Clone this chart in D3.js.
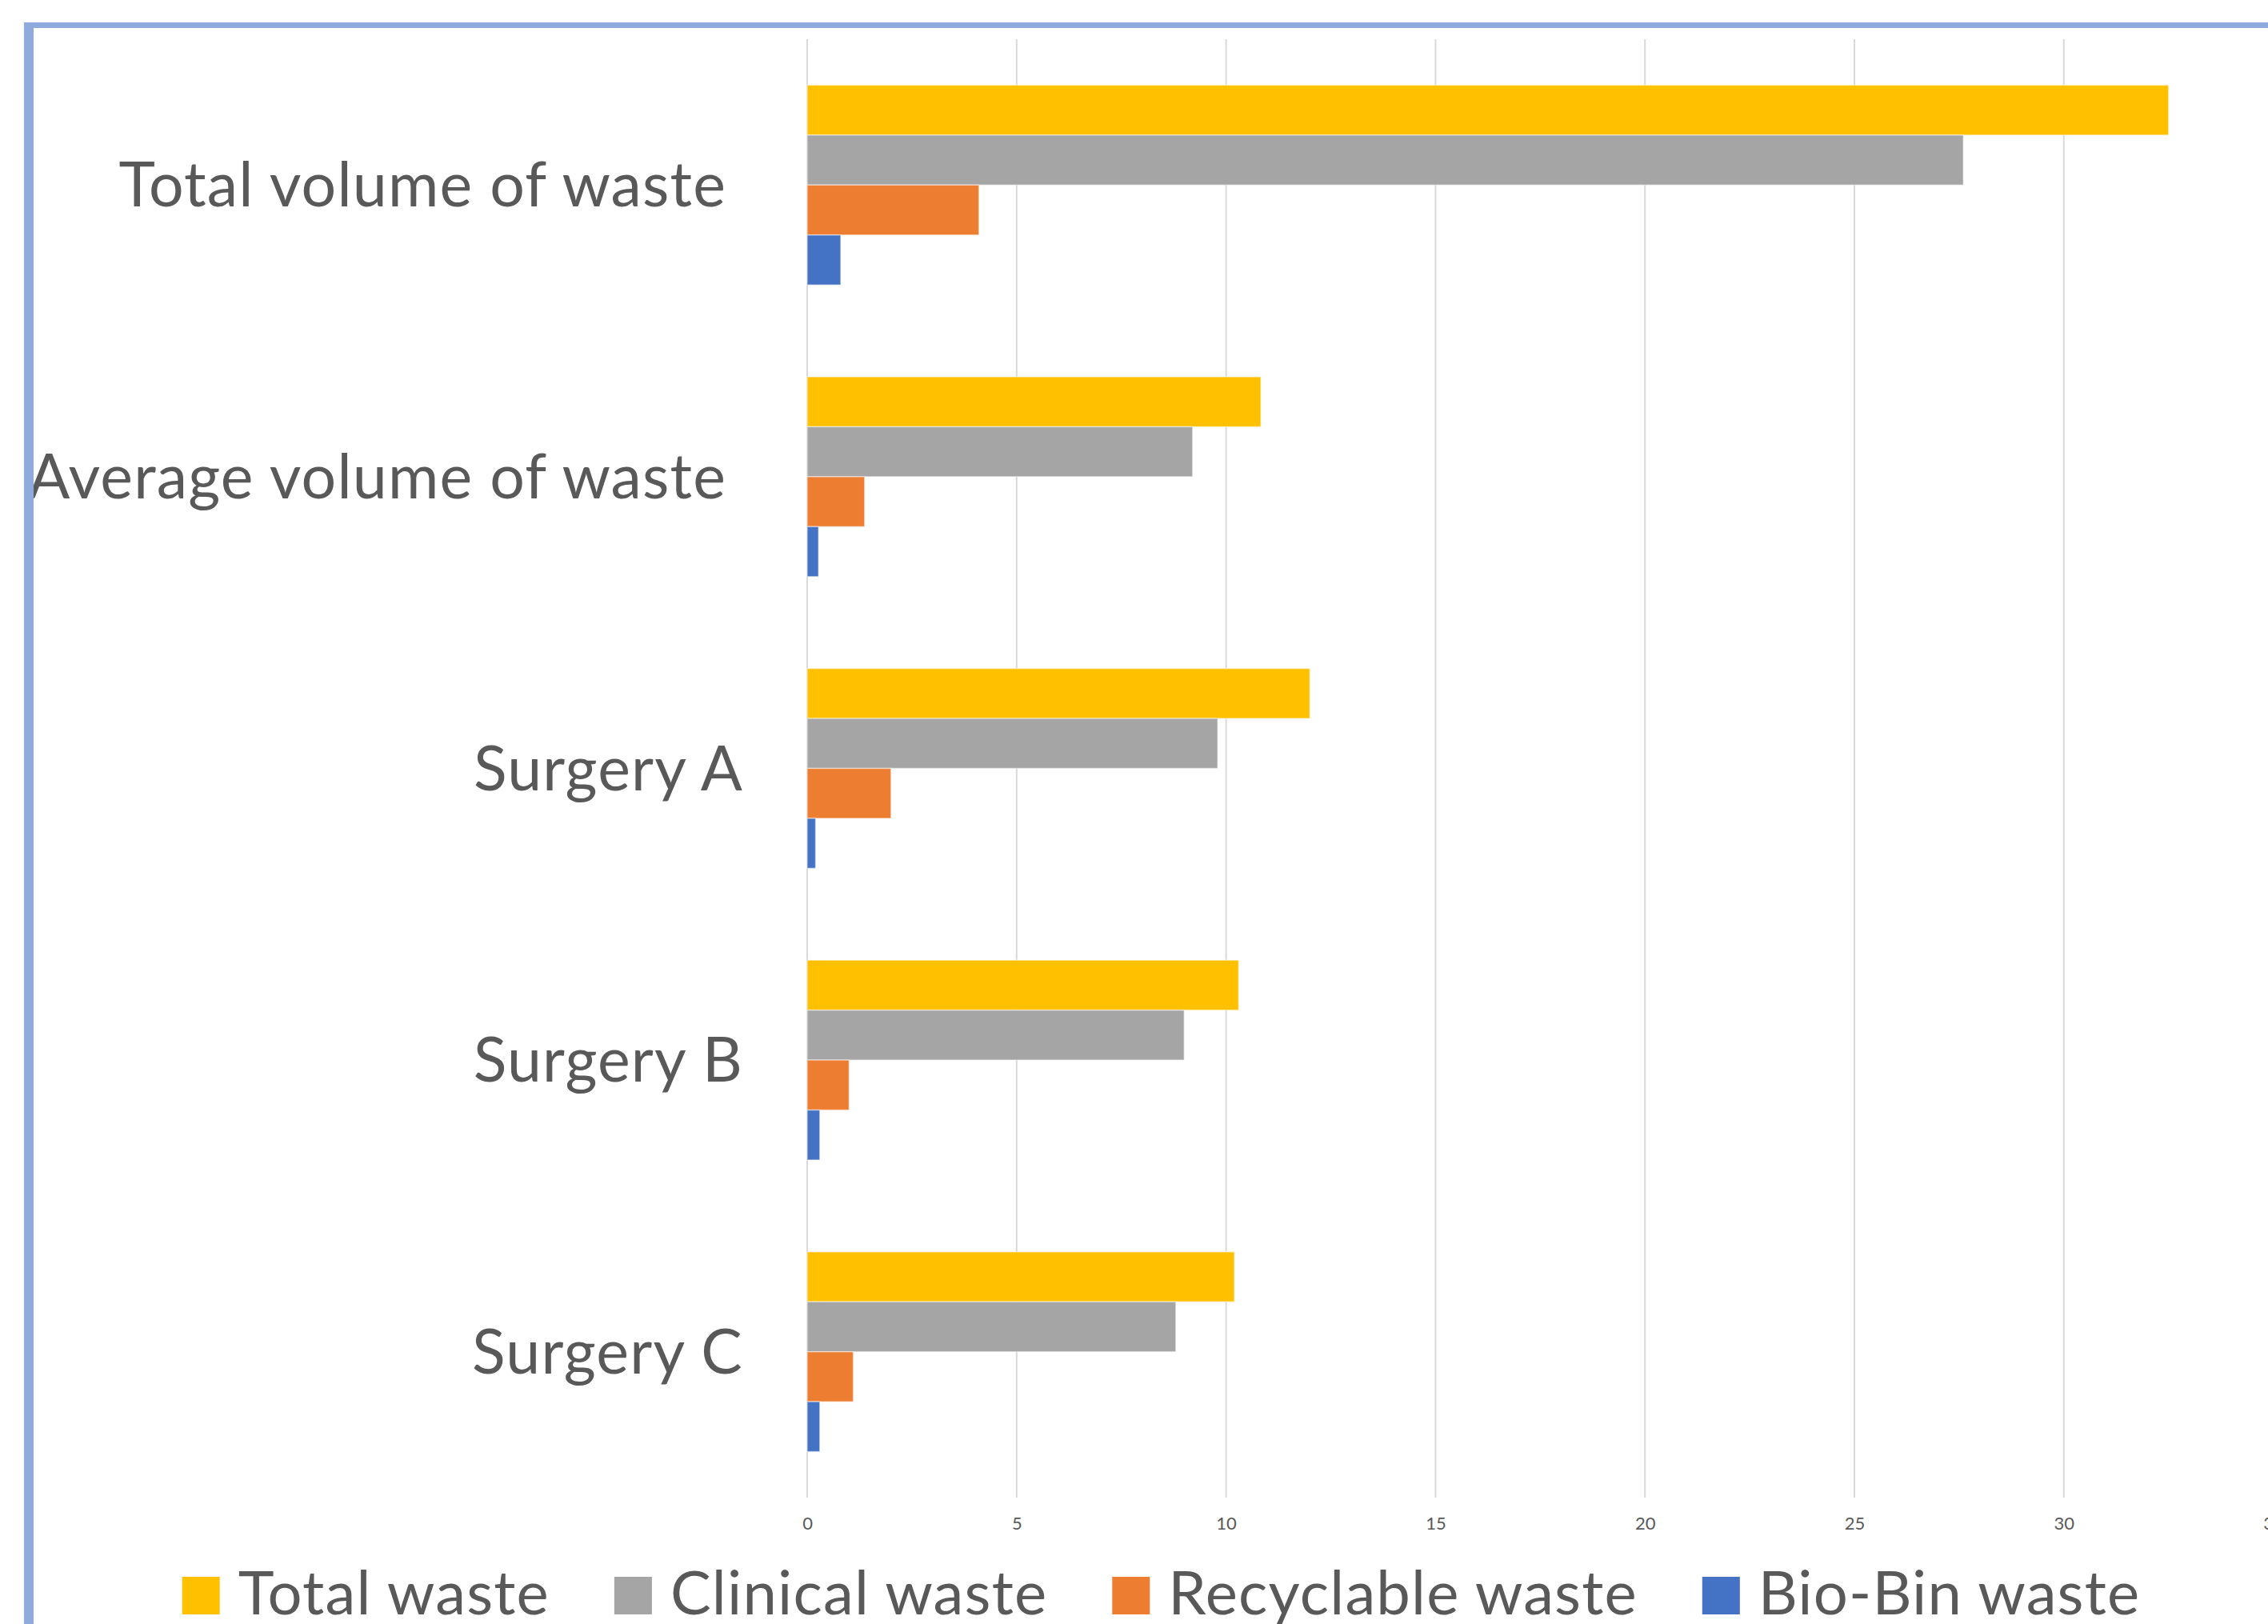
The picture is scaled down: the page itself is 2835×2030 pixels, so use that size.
<!DOCTYPE html>
<html>
<head>
<meta charset="utf-8">
<script src="https://cdn.jsdelivr.net/npm/d3@7"></script>
<style>
  html, body { margin: 0; padding: 0; background: #ffffff; overflow: hidden; }
  svg { display: block; }
  text { font-family: Lato, "Open Sans", sans-serif; fill: #595959; white-space: pre; }
</style>
</head>
<body>
<script>
// ---- data ----
const categories = ["Total volume of waste ", "Average volume of waste ", "Surgery A", "Surgery B", "Surgery C"];
const seriesNames = ["Total waste", "Clinical waste", "Recyclable waste", "Bio-Bin waste"];
const totalWaste      = [32.5, 10.83, 12.0, 10.3, 10.2];
const clinicalWaste   = [27.6, 9.2, 9.8, 9.0, 8.8];
const recyclableWaste = [4.1, 1.37, 2.0, 1.0, 1.1];
const bioBinWaste     = [0.8, 0.27, 0.2, 0.3, 0.3];
const xTicks = [0, 5, 10, 15, 20, 25, 30, 35];

// ---- styles / layout ----
const W = 2835, H = 2030;
const colors = ["#ffc000", "#a5a5a5", "#ed7d31", "#4472c4"];
const seriesValues = [totalWaste, clinicalWaste, recyclableWaste, bioBinWaste];

const svg = d3.select("body").append("svg").attr("width", W).attr("height", H);

const plot = { left: 1009, right: 2841.6, top: 49, bottom: 1872 };

const x = d3.scaleLinear().domain([0, 35]).range([plot.left, plot.right]);
const y = d3.scaleBand().domain(categories).range([plot.top, plot.bottom])
  .paddingInner(0.315).paddingOuter(0.1575);
const ySub = d3.scaleBand().domain(seriesNames).range([0, y.bandwidth()]);

// gridlines
svg.append("g").selectAll("line").data(xTicks).join("line")
  .attr("x1", d => x(d)).attr("x2", d => x(d))
  .attr("y1", plot.top).attr("y2", plot.bottom)
  .attr("stroke", "#d9d9d9").attr("stroke-width", 2);

// x axis tick labels
const xAxis = d3.axisBottom(x).tickValues(xTicks).tickSize(0).tickPadding(0).tickFormat(d3.format("d"));
const gx = svg.append("g").attr("transform", `translate(0,${plot.bottom})`).call(xAxis);
gx.select(".domain").remove();
gx.selectAll("text").attr("y", 40).attr("dy", null)
  .style("font-size", "22px").style("fill", "#595959").style("font-family", "Lato, sans-serif");

// bars
const rows = categories.map((c, i) => ({ cat: c, vals: seriesNames.map((s, j) => ({ s, v: seriesValues[j][i], j })) }));
const groups = svg.append("g").selectAll("g").data(rows).join("g")
  .attr("transform", d => `translate(0,${y(d.cat)})`);
groups.selectAll("rect").data(d => d.vals).join("rect")
  .attr("x", x(0))
  .attr("y", d => ySub(d.s))
  .attr("width", d => x(d.v) - x(0))
  .attr("height", ySub.bandwidth())
  .attr("fill", d => colors[d.j])
  .attr("stroke", "#ffffff").attr("stroke-opacity", 0.45).attr("stroke-width", 1.5);

// category labels
const labelFont = 77;
const capH = 54;
svg.append("g").selectAll("text").data(categories).join("text")
  .attr("x", 929)
  .attr("y", d => y(d) + y.bandwidth() / 2 + capH / 2)
  .attr("text-anchor", "end")
  .style("font-size", labelFont + "px")
  .style("letter-spacing", "1.2px")
  .text(d => d);

// legend
const legendFont = 76;
const sq = 47, gapIn = 23, gapOut = 81, legendBaseline = 2018;
const lg = svg.append("g");
const items = lg.selectAll("g").data(seriesNames).join("g");
items.append("rect").attr("width", sq).attr("height", sq).attr("y", legendBaseline - sq)
  .attr("fill", (d, i) => colors[i]);
items.append("text").attr("x", sq + gapIn).attr("y", legendBaseline)
  .style("font-size", legendFont + "px").style("letter-spacing", "1.2px").text(d => d);
let cx = 0;
const offsets = [];
items.each(function () {
  offsets.push(cx);
  const tw = d3.select(this).select("text").node().getComputedTextLength();
  cx += sq + gapIn + tw + gapOut;
});
const totalW = cx - gapOut;
const startX = 1451.5 - totalW / 2;
items.attr("transform", (d, i) => `translate(${startX + offsets[i]},0)`);

// chart border (blue frame, cropped)
svg.append("rect").attr("x", 30).attr("y", 28).attr("width", W - 30).attr("height", 7).attr("fill", "#8faadc");
svg.append("rect").attr("x", 30).attr("y", 28).attr("width", 12).attr("height", H - 28).attr("fill", "#8faadc");
</script>
</body>
</html>
